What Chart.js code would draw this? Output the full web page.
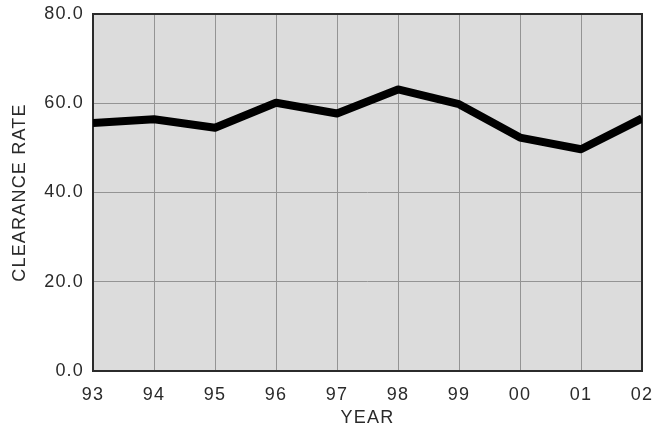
<!DOCTYPE html>
<html>
<head>
<meta charset="utf-8">
<script src="https://cdn.jsdelivr.net/npm/chart.js@4"></script>
<style>
  html, body { margin: 0; padding: 0; background: #fff; }
  #wrap { width: 654px; height: 431px; }
</style>
</head>
<body>
<div id="wrap"><canvas id="rateChart" width="654" height="431"></canvas></div>
<script>
// Data
const years = ['93', '94', '95', '96', '97', '98', '99', '00', '01', '02'];
const clearanceRate = [55.6, 56.4, 54.5, 60.1, 57.7, 63.1, 59.8, 52.3, 49.7, 56.6];
const yTicks = [0, 20, 40, 60, 80];

const FONT = { family: '"Liberation Sans", Arial, sans-serif', size: 18 };
const SPACING = '1.2px';

// grey plot background, dark frame, spaced lettering
const plotFrame = {
    id: 'plotFrame',
    beforeUpdate(chart) { chart.ctx.letterSpacing = SPACING; },
    beforeDraw(chart) {
        const { ctx, chartArea: a } = chart;
        ctx.save();
        ctx.fillStyle = '#dcdcdc';
        ctx.fillRect(a.left, a.top, a.right - a.left, a.bottom - a.top);
        ctx.restore();
        ctx.letterSpacing = SPACING;
    },
    beforeDatasetsDraw(chart) {
        const { ctx, chartArea: a } = chart;
        ctx.save();
        ctx.strokeStyle = '#2b2b2b';
        ctx.lineWidth = 2;
        ctx.strokeRect(a.left, a.top, a.right - a.left, a.bottom - a.top);
        ctx.restore();
    }
};

new Chart(document.getElementById('rateChart'), {
    type: 'line',
    data: {
        labels: years,
        datasets: [{
            data: clearanceRate,
            borderColor: '#000',
            borderWidth: 8,
            borderJoinStyle: 'round',
            pointRadius: 0,
            tension: 0,
            fill: false,
            clip: 0
        }]
    },
    options: {
        responsive: false,
        animation: false,
        layout: { padding: { top: 14, right: 12, left: 0, bottom: 0 } },
        plugins: { legend: { display: false }, tooltip: { enabled: false } },
        scales: {
            x: {
                offset: false,
                grid: { color: '#949494', lineWidth: 1, drawTicks: false },
                border: { display: false },
                ticks: { color: '#2a2a2a', font: FONT, padding: 13, maxRotation: 0, autoSkip: false },
                title: { display: true, text: 'YEAR', color: '#2a2a2a', font: FONT, padding: { top: 0, bottom: 2 } },
                afterFit(scale) {
                    scale.height = 60;
                    scale.paddingLeft = 0;
                    scale.paddingRight = 0;
                }
            },
            y: {
                min: 0,
                max: 80,
                afterBuildTicks(scale) { scale.ticks = yTicks.map(v => ({ value: v })); },
                grid: { color: '#949494', lineWidth: 1, drawTicks: false },
                border: { display: false },
                ticks: { color: '#2a2a2a', font: FONT, padding: 9, callback: v => v.toFixed(1) },
                title: { display: true, text: 'CLEARANCE RATE', color: '#2a2a2a', font: FONT, padding: { top: 9, bottom: 0 } },
                afterFit(scale) {
                    scale.width = 93;
                    scale.paddingTop = 0;
                    scale.paddingBottom = 0;
                }
            }
        }
    },
    plugins: [plotFrame]
});
</script>
</body>
</html>
